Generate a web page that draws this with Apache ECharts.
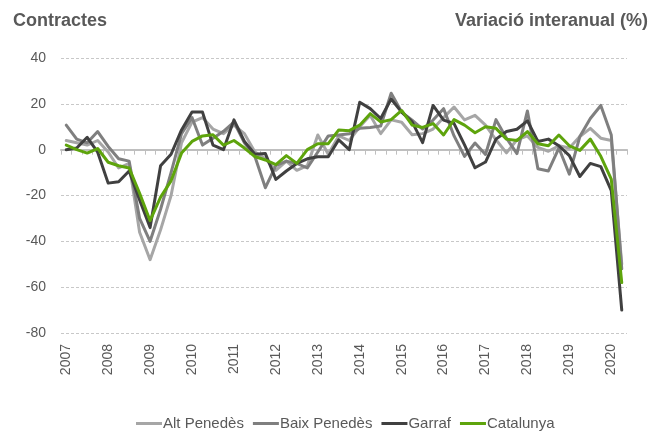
<!DOCTYPE html>
<html>
<head>
<meta charset="utf-8">
<script src="https://cdn.jsdelivr.net/npm/echarts@6/dist/echarts.min.js"></script>
<style>
  html, body { margin: 0; padding: 0; background: #fff; }
  #chart { width: 662px; height: 432px; }
</style>
</head>
<body>
<div id="chart"></div>
<script>
// trimestres 2007 T1 - 2020 T2
const years = ["2007","2008","2009","2010","2011","2012","2013","2014","2015","2016","2017","2018","2019","2020"];
const categories = [];
years.forEach(function (y) {
  for (let q = 1; q <= 4; q++) {
    if (y === "2020" && q > 2) break;
    categories.push(y + " T" + q);
  }
});

const altPenedes = [4, 3, 2, 4, -1, -8, -6, -36, -48, -35, -20, 3, 12, 14, 9, 7, 10.7, 7, -1, -4,
  -9, -5, -9, -7, 6.4, -2, 6, 4, 10, 15, 7, 13, 12, 6.5, 7, 9, 14, 18.6, 13, 15,
  10.7, 4.3, -1.4, 4.3, 6, 1, -0.7, 1.7, 0.7, 5.7, 9.3, 5, 4, -50];
const baixPenedes = [10.7, 4.6, 3, 7.9, 1.4, -4, -5, -30, -40, -26, -10, 7, 14, 2, 5, 8, 12, 3, -3, -16.6,
  -7, -5, -6, -8, -1, 6, 6.4, 6.9, 9.3, 9.7, 10.3, 24.6, 16.4, 12.9, 9, 12.9, 17.9, 6, -2.9, 2.9,
  -2.1, 13.1, 5, -1.7, 16.9, -8.3, -9.3, 0.7, -10.7, 5.7, 13.6, 19.3, 6.4, -52];
const garraf = [0, 0.7, 5.4, -1.1, -14.6, -14, -9.3, -22, -34, -7, -2, 8.6, 16.4, 16.4, 2, 0, 13, 3.6, -2, -1.7,
  -13, -9.3, -6, -4, -3.1, -3.1, 4.3, 0, 20.7, 17.9, 13.6, 22.1, 16.4, 12.1, 3.1, 19.3, 12.9, 11.4, 2.1, -7.9,
  -5.4, 4.6, 7.9, 8.9, 12.6, 3.6, 4.6, 1.7, -2.6, -11.7, -6, -7.4, -17.9, -70];
const catalunya = [2, 0, -1.5, 0.5, -5.5, -7, -8, -19, -31, -20.7, -13.6, -1.5, 3.6, 6, 6.5, 2, 4, 0.7, -3, -4.5,
  -6.5, -2.6, -6, 0, 2.6, 2.6, 8.6, 8.3, 10.7, 15.7, 12.1, 13.1, 17.1, 10.7, 9.7, 11.4, 6.4, 13.1, 10.7, 7.4,
  10, 9.3, 4.6, 4, 7.9, 2.6, 1.7, 6.4, 1.7, -0.3, 4.6, -2.9, -12.9, -58];

const seriesNames = ["Alt Penedès", "Baix Penedès", "Garraf", "Catalunya"];
const seriesColors = ["#a6a6a6", "#7f7f7f", "#404040", "#5ea40c"];
const seriesData = [altPenedes, baixPenedes, garraf, catalunya];

const textColor = "#595959";
const font = "'Liberation Sans', Arial, sans-serif";

const chart = echarts.init(document.getElementById("chart"));
const option = {
  animation: false,
  title: [
    { text: "Contractes", left: 8, top: 7,
      textStyle: { fontFamily: font, fontSize: 18, fontWeight: "bold", color: textColor } },
    { text: "Variació interanual (%)", right: 9, top: 7,
      textStyle: { fontFamily: font, fontSize: 18, fontWeight: "bold", color: textColor } }
  ],
  grid: { left: 61, right: 35, top: 58, bottom: 99 },
  legend: {
    left: 131, top: 411,
    icon: "rect", itemWidth: 26, itemHeight: 3, itemGap: 9,
    textStyle: { fontFamily: font, fontSize: 15, color: textColor, padding: [0, 0, 0, -4] },
    data: seriesNames
  },
  xAxis: [
    {
      // eje en el cero con marcas
      type: "category",
      data: categories,
      boundaryGap: true,
      axisLine: { onZero: true, lineStyle: { color: "#bfbfbf", width: 2 } },
      axisTick: { show: true, interval: 0, length: 5, lineStyle: { color: "#bfbfbf" } },
      axisLabel: { show: false },
      splitLine: { show: false }
    },
    {
      // etiquetas de años abajo
      type: "category",
      data: categories,
      position: "bottom",
      boundaryGap: true,
      axisLine: { show: false, onZero: false },
      axisTick: { show: false },
      axisLabel: {
        interval: 3, rotate: 90, margin: 11,
        fontFamily: font, fontSize: 14, color: textColor,
        formatter: function (v) { return v.slice(0, 4); }
      }
    }
  ],
  yAxis: {
    type: "value",
    min: -80, max: 40, interval: 20,
    axisLine: { show: false },
    axisTick: { show: false },
    axisLabel: { fontFamily: font, fontSize: 14, color: textColor, margin: 15 },
    splitLine: { lineStyle: { color: "#c8c8c8", type: [3, 2], width: 1 } }
  },
  series: seriesNames.map(function (name, i) {
    return {
      name: name,
      type: "line",
      xAxisIndex: 0,
      data: seriesData[i],
      symbol: "none",
      color: seriesColors[i],
      lineStyle: { width: 3, color: seriesColors[i], cap: "round", join: "round" },
      z: 2 + i
    };
  })
};
chart.setOption(option);
</script>
</body>
</html>
